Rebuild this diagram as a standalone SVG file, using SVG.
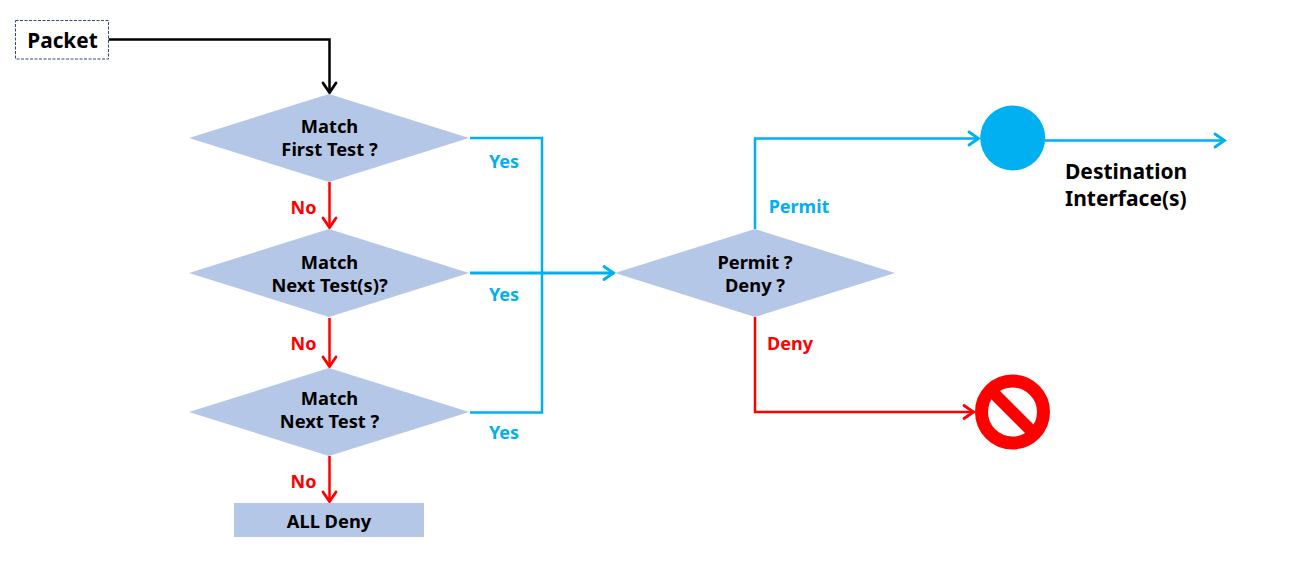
<svg xmlns="http://www.w3.org/2000/svg" width="1300" height="562" viewBox="0 0 1300 562">
<style>
text{font-family:"Noto Sans","Open Sans","Liberation Sans",sans-serif;font-weight:700;text-anchor:middle}
.d{fill:#b4c7e7}
.n{font-size:18.300px;fill:#000}
.b{fill:#00b0f0;font-size:18px}
.r{fill:#ff0000;font-size:18px}
.c{fill:none;stroke-width:2.500;stroke-linejoin:miter}
.cb{stroke:#00b0f0}.cr{stroke:#ff0000}.ck{stroke:#000}
</style>
<defs>
<marker id="mb" markerUnits="userSpaceOnUse" markerWidth="16" markerHeight="18" refX="13" refY="9" orient="auto"><path d="M3 2.500L12.500 9L3 15.500" fill="none" stroke="#00b0f0" stroke-width="2.800" stroke-linecap="round"/></marker>
<marker id="mr" markerUnits="userSpaceOnUse" markerWidth="16" markerHeight="18" refX="13" refY="9" orient="auto"><path d="M3 2.500L12.500 9L3 15.500" fill="none" stroke="#ff0000" stroke-width="2.800" stroke-linecap="round"/></marker>
<marker id="mk" markerUnits="userSpaceOnUse" markerWidth="16" markerHeight="18" refX="13" refY="9" orient="auto"><path d="M3 2.500L12.500 9L3 15.500" fill="none" stroke="#000" stroke-width="2.800" stroke-linecap="round"/></marker>
</defs>
<g id="connectors">
<path class="c ck" d="M108.500 39.500H329.500V93" marker-end="url(#mk)"/>
<path class="c cr" d="M329.500 182V228" marker-end="url(#mr)"/>
<path class="c cr" d="M329.500 318V367" marker-end="url(#mr)"/>
<path class="c cr" d="M329.500 456V502" marker-end="url(#mr)"/>
<path class="c cb" d="M470 138H542V412.500H470"/>
<path class="c cb" style="stroke-width:3" d="M470 273H614" marker-end="url(#mb)"/>
<path class="c cb" d="M755 229V138.500H979" marker-end="url(#mb)"/>
<path class="c cb" d="M1045 140.500H1225" marker-end="url(#mb)"/>
<path class="c cr" d="M755 317V412H974" marker-end="url(#mr)"/>
</g>
<g id="packet"><rect x="15.500" y="20.500" width="93" height="38.500" fill="#fff" stroke="#2f4a7a" stroke-width="1" stroke-dasharray="3 1.500"/><text x="62.500" y="48" font-size="20.800" fill="#000">Packet</text></g>
<g id="match-first"><polygon class="d" points="189,138 329,94 469,138 329,182"/><text class="n" x="329.500" y="133">Match</text><text class="n" x="329.500" y="156">First Test ?</text></g>
<g id="match-next-s"><polygon class="d" points="189,273 329,229 469,273 329,317"/><text class="n" x="329.500" y="269">Match</text><text class="n" x="329.500" y="292">Next Test(s)?</text></g>
<g id="match-next"><polygon class="d" points="189,412 329,368 469,412 329,456"/><text class="n" x="329.500" y="405">Match</text><text class="n" x="329.500" y="428">Next Test ?</text></g>
<g id="all-deny"><rect class="d" x="234" y="503" width="190" height="34"/><text class="n" x="329" y="528">ALL Deny</text></g>
<g id="permit-deny"><polygon class="d" points="615,273 755,229 895,273 755,317"/><text class="n" x="755" y="269">Permit ?</text><text class="n" x="755" y="292">Deny ?</text></g>
<g id="destination"><circle cx="1012.700" cy="138" r="32.500" fill="#00b0f0"/></g>
<g id="destination-label"><text x="1065" y="179" font-size="21" fill="#000" style="text-anchor:start">Destination</text><text x="1065" y="206" font-size="21" fill="#000" style="text-anchor:start">Interface(s)</text></g>
<g id="blocked"><circle cx="1012.500" cy="412" r="31" fill="#fff" stroke="#ff0000" stroke-width="13"/><line x1="990" y1="389.500" x2="1035" y2="434.500" stroke="#ff0000" stroke-width="12"/></g>
<g id="labels">
<text class="b" x="504" y="168">Yes</text><text class="b" x="504" y="301">Yes</text><text class="b" x="504" y="439">Yes</text>
<text class="r" x="303.500" y="214">No</text><text class="r" x="303.500" y="350">No</text><text class="r" x="303.500" y="488">No</text>
<text class="b" x="799" y="213">Permit</text><text class="r" x="790" y="350">Deny</text>
</g>
</svg>
